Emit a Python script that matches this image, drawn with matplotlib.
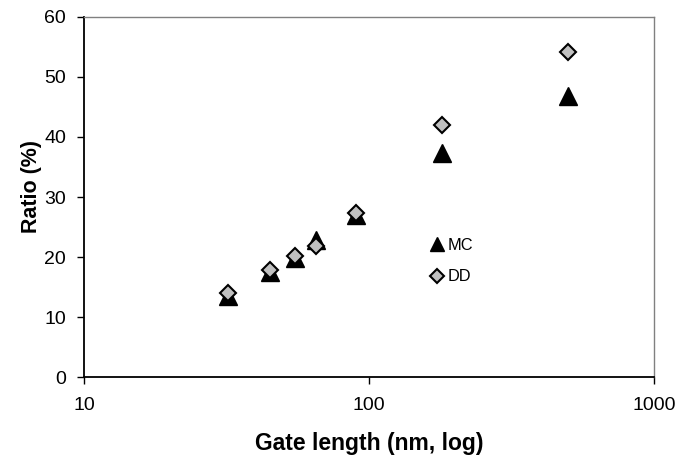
import matplotlib
matplotlib.use('Agg')
import matplotlib.pyplot as plt

plt.rcParams['font.family'] = ['Liberation Sans', 'DejaVu Sans']

gate_length = [32, 45, 55, 65, 90, 180, 500]
ratio_mc = [13.5, 17.5, 19.8, 22.8, 27.0, 37.3, 46.8]
ratio_dd = [14.0, 17.8, 20.1, 21.9, 27.4, 42.0, 54.2]

fig = plt.figure(figsize=(6.79, 4.59), dpi=100)
ax = fig.add_axes([0.1237, 0.1786, 0.8395, 0.7844])

ax.plot(gate_length, ratio_mc, linestyle='none', marker='^', markersize=12.5,
        color='black', markeredgecolor='black', label='MC', zorder=3)
ax.plot(gate_length, ratio_dd, linestyle='none', marker='D', markersize=8.3,
        markerfacecolor='#c0c0c0', markeredgecolor='black', markeredgewidth=1.5,
        label='DD', zorder=4)

ax.set_xscale('log')
ax.set_xlim(10, 1000)
ax.set_ylim(0, 60)
ax.set_yticks(range(0, 61, 10))
ax.set_xticks([10, 100, 1000])
ax.set_xticklabels(['10', '100', '1000'])
ax.xaxis.set_minor_locator(matplotlib.ticker.NullLocator())

ax.tick_params(axis='both', direction='out', length=5, width=1, labelsize=14)
ax.tick_params(axis='y', pad=8)
ax.tick_params(axis='x', pad=9.5)
for s in ['left', 'bottom']:
    ax.spines[s].set_color('black')
    ax.spines[s].set_linewidth(1.3)
for s in ['top', 'right']:
    ax.spines[s].set_color('#808080')
    ax.spines[s].set_linewidth(1.0)

ax.set_xlabel('Gate length (nm, log)', fontsize=16.5, fontweight='bold', labelpad=13)
ax.set_ylabel('Ratio (%)', fontsize=15.5, fontweight='bold')
ax.yaxis.set_label_coords(-0.073, 0.53)

ax.legend(loc='center left', bbox_to_anchor=(0.59, 0.322), frameon=False,
          fontsize=11.8, markerscale=0.8, handletextpad=0.15, handlelength=1.0,
          labelspacing=1.0, borderpad=0)

fig.savefig('out.png', dpi=100)
